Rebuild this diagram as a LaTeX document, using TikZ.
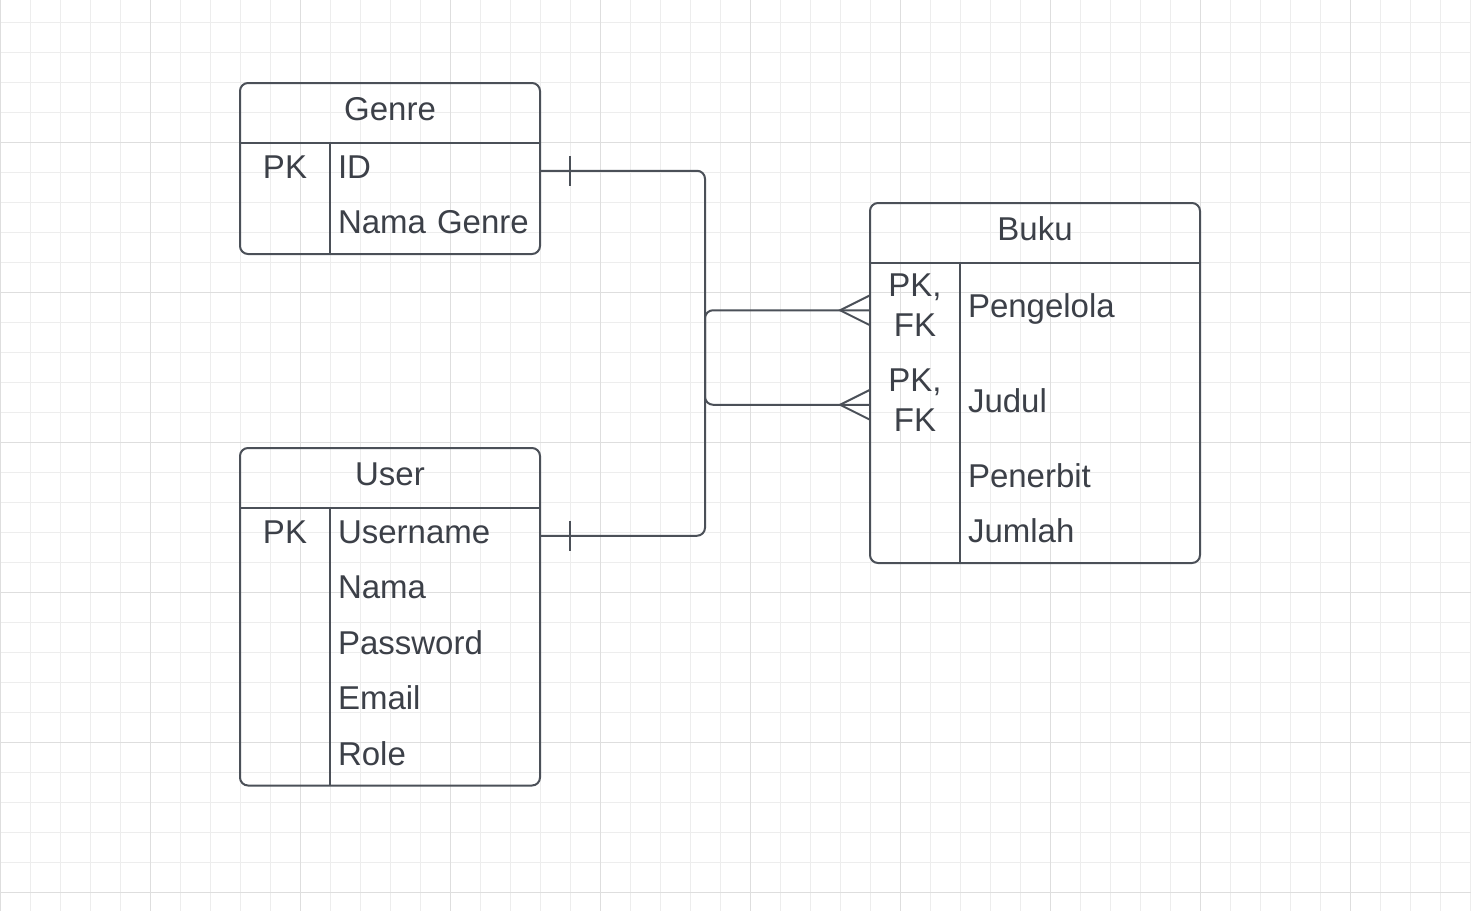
\documentclass[tikz,border=0pt]{standalone}
\usepackage{fontspec}
\setmainfont{Liberation Sans}
\usetikzlibrary{positioning,calc}

\definecolor{inkline}{HTML}{4B5058}
\definecolor{inktext}{HTML}{3C4048}
\definecolor{gridminor}{HTML}{EDEDED}
\definecolor{gridmajor}{HTML}{DEDEDE}

\begin{document}
\begin{tikzpicture}[x=1pt, y=-1pt, line width=2pt, color=inkline]
	\tikzstyle{every node}=[outer sep=0pt, text=inktext, font=\fontsize{33}{40}\selectfont]
	\tikzstyle{table}=[draw, rounded corners=8pt, anchor=north west, inner sep=0pt]
	\tikzstyle{title}=[inner sep=0pt, text height=24pt, text depth=9pt]
	\tikzstyle{field}=[anchor=north west, align=left, text width=194pt,
		inner xsep=8pt, inner ysep=0pt, minimum height=55.5pt,
		text height=24pt, text depth=9pt]
	\tikzstyle{wide}=[text width=224pt]
	\tikzstyle{tall}=[minimum height=94.5pt]
	\tikzstyle{pk}=[inner sep=0pt, minimum width=90pt, minimum height=55.5pt,
		text height=24pt, text depth=9pt]
	\tikzstyle{pkfk}=[inner sep=0pt, minimum width=90pt, align=center]
	\tikzstyle{rel}=[rounded corners=8pt]
	% % Background grid
	\fill[white] (0,0) rectangle (1471,911);
	\useasboundingbox (0,0) rectangle (1471,911);
	\foreach \k in {0,...,49}
		\draw[gridminor, line width=1pt] (30*\k,0) -- (30*\k,911);
	\foreach \k in {0,...,29}
		\draw[gridminor, line width=1pt] (0,22+30*\k) -- (1471,22+30*\k);
	\foreach \k in {0,...,9}
		\draw[gridmajor, line width=1pt] (150*\k,0) -- (150*\k,911);
	\foreach \k in {0,...,5}
		\draw[gridmajor, line width=1pt] (0,142+150*\k) -- (1471,142+150*\k);
	% % Nodes
	% genre
	\node[table, minimum width=300pt, minimum height=171pt] (genre) at (240,83) {};
	\node[title] (genreT) at ([yshift=-30pt]genre.north) {Genre};
	\node[field] (gid) at ([xshift=90pt,yshift=-60pt]genre.north west) {ID};
	\node[field, below=0pt of gid] (gname) {Nama Genre};
	\node[pk, left=0pt of gid] (gkey) {PK};
	\draw (genre.north west |- gid.north) -- (genre.north east |- gid.north);
	\draw (gid.north west) -- (gid.north west |- genre.south);
	% user
	\node[table, minimum width=300pt, minimum height=337.5pt] (user) at (240,448) {};
	\node[title] (userT) at ([yshift=-30pt]user.north) {User};
	\node[field] (uname) at ([xshift=90pt,yshift=-60pt]user.north west) {Username};
	\node[field, below=0pt of uname] (unama) {Nama};
	\node[field, below=0pt of unama] (upass) {Password};
	\node[field, below=0pt of upass] (umail) {Email};
	\node[field, below=0pt of umail] (urole) {Role};
	\node[pk, left=0pt of uname] (ukey) {PK};
	\draw (user.north west |- uname.north) -- (user.north east |- uname.north);
	\draw (uname.north west) -- (uname.north west |- user.south);
	% buku
	\node[table, minimum width=330pt, minimum height=360pt] (buku) at (870,203) {};
	\node[title] (bukuT) at ([yshift=-30pt]buku.north) {Buku};
	\node[field, wide, tall] (bpeng) at ([xshift=90pt,yshift=-60pt]buku.north west) {Pengelola};
	\node[field, wide, tall, below=0pt of bpeng] (bjud) {Judul};
	\node[field, wide, below=0pt of bjud] (bpen) {Penerbit};
	\node[field, wide, below=0pt of bpen] (bjum) {Jumlah};
	\node[pkfk, left=0pt of bpeng, yshift=4.75pt] (bkey1) {PK,\\FK};
	\node[pkfk, left=0pt of bjud, yshift=4.75pt] (bkey2) {PK,\\FK};
	\draw (buku.north west |- bpeng.north) -- (buku.north east |- bpeng.north);
	\draw (bpeng.north west) -- (bpeng.north west |- buku.south);
	% % Connectors
	% genre -- judul
	\draw[rel] (gid.east) -| ($(gid.east)!.5!(buku.west |- bjud)$) |- (buku.west |- bjud);
	\draw ([xshift=30pt]gid.east) ++(0,-15) -- ++(0,30);
	\draw (buku.west |- bjud) ++(0,-15) -- ++(-30,15) -- ++(30,15);
	% user -- pengelola
	\draw[rel] (uname.east) -| ($(uname.east)!.5!(buku.west |- bpeng)$) |- (buku.west |- bpeng);
	\draw ([xshift=30pt]uname.east) ++(0,-15) -- ++(0,30);
	\draw (buku.west |- bpeng) ++(0,-15) -- ++(-30,15) -- ++(30,15);
\end{tikzpicture}
\end{document}
